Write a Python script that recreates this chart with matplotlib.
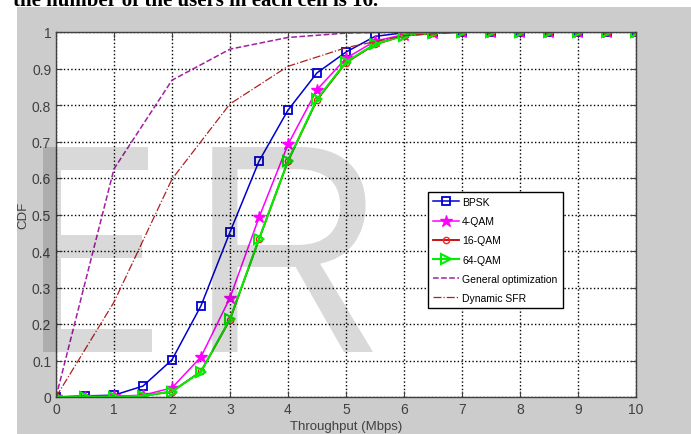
import numpy as np
import matplotlib
matplotlib.use("Agg")
import matplotlib.pyplot as plt
from matplotlib.patches import Rectangle, PathPatch
from matplotlib.textpath import TextPath
from matplotlib.font_manager import FontProperties
from matplotlib.path import Path

# throughput grid (Mbps)
x_mod = [0, 0.5, 1, 1.5, 2, 2.5, 3, 3.5, 4, 4.5, 5, 5.5, 6, 6.5, 7, 7.5, 8, 8.5, 9, 9.5, 10]
x_ref = [0, 1, 2, 3, 4, 5, 6, 7, 8, 9, 10]

bpsk   = [0, 0.003, 0.005, 0.03, 0.102, 0.25, 0.452, 0.646, 0.786, 0.888, 0.945, 0.988, 0.998, 1, 1, 1, 1, 1, 1, 1, 1]
qam4   = [0, 0.001, 0.002, 0.005, 0.025, 0.11, 0.272, 0.492, 0.692, 0.842, 0.928, 0.975, 0.993, 0.998, 1, 1, 1, 1, 1, 1, 1]
qam16  = [0, 0.001, 0.001, 0.003, 0.015, 0.07, 0.212, 0.432, 0.646, 0.814, 0.916, 0.966, 0.99, 0.997, 1, 1, 1, 1, 1, 1, 1]
qam64  = [0, 0.001, 0.001, 0.003, 0.015, 0.069, 0.214, 0.433, 0.647, 0.816, 0.918, 0.967, 0.99, 0.997, 1, 1, 1, 1, 1, 1, 1]
gen_opt = [0, 0.625, 0.868, 0.953, 0.985, 0.997, 1, 1, 1, 1, 1]
dyn_sfr = [0, 0.26, 0.597, 0.803, 0.906, 0.957, 0.99, 1, 1, 1, 1]

xticks = list(range(0, 11))
yticks = [0, 0.1, 0.2, 0.3, 0.4, 0.5, 0.6, 0.7, 0.8, 0.9, 1]
ylabels = ["0", "0.1", "0.2", "0.3", "0.4", "0.5", "0.6", "0.7", "0.8", "0.9", "1"]

plt.rcParams["font.family"] = ["Liberation Sans", "DejaVu Sans"]

W, H = 691, 435
fig = plt.figure(figsize=(W/100, H/100), dpi=100, facecolor="white")
# matlab grey figure area
fig.patches.append(Rectangle((17/W, 0), 1 - 17/W, (H-8)/H, transform=fig.transFigure,
                             facecolor="#cccccc", edgecolor="none", zorder=-5))
fig.text(13/W, 1 - 6/H, "the number of the users in each cell is 16.", family="Liberation Serif",
         fontsize=15, fontweight="bold", va="baseline", ha="left", color="black")

ax = fig.add_axes([56/W, (H-398)/H, 580/W, 365/H])
ax.set_facecolor("white")

ax.plot(x_mod, bpsk, "-s", color="#0000d0", lw=1.1, ms=6, mfc="none", mew=1.3, label="BPSK")
ax.plot(x_mod, qam4, "-*", color="#ff00ff", lw=1.1, ms=9, mfc="#ff00ff", label="4-QAM")
ax.plot(x_mod, qam16, "-o", color="#c00000", lw=1.3, ms=4.5, mfc="none", mec="#ff2020", label="16-QAM")
ax.plot(x_mod, qam64, "->", color="#00ee00", lw=1.5, ms=7, mfc="none", mew=1.5, label="64-QAM")
ax.plot(x_ref, gen_opt, "--", color="#a020a0", lw=1.1, label="General optimization")
ax.plot(x_ref, dyn_sfr, "-.", color="#b02020", lw=0.9, label="Dynamic SFR")

ax.set_xlim(0, 10); ax.set_ylim(0, 1)
ax.set_xticks(xticks); ax.set_yticks(yticks); ax.set_yticklabels(ylabels)
ax.grid(True, ls=":", color="black", lw=1.0)
ax.tick_params(direction="in", length=4, top=True, right=True, labelsize=10, labelcolor="#404040", color="#404040")
for s in ax.spines.values():
    s.set_color("#404040"); s.set_linewidth(1.0)
ax.set_xlabel("Throughput (Mbps)", fontsize=9.5, color="#404040", labelpad=3)
ax.set_ylabel("CDF", fontsize=9.5, color="#404040", labelpad=2)

leg = ax.legend(loc="upper left", bbox_to_anchor=(0.641, 0.562), fontsize=7.5, frameon=True,
                fancybox=False, framealpha=1, edgecolor="black", handlelength=2.5,
                borderpad=0.5, labelspacing=0.88, handletextpad=0.3, borderaxespad=0)
leg.get_frame().set_linewidth(1.0)

# faded watermark over the plot, each letter fitted to its box (pixels, from top-left)
fp = FontProperties(family="Liberation Sans")
for ch, (x0, x1, y0, y1) in [("E", (26, 152, 148, 353)), ("R", (190, 373, 148, 353))]:
    tp = TextPath((0, 0), ch, size=1, prop=fp)
    v = tp.vertices.copy()
    mn, mx = v.min(0), v.max(0)
    v[:, 0] = (x0 + (v[:, 0] - mn[0]) / (mx[0] - mn[0]) * (x1 - x0)) / W
    v[:, 1] = (H - y1 + (v[:, 1] - mn[1]) / (mx[1] - mn[1]) * (y1 - y0)) / H
    fig.add_artist(PathPatch(Path(v, tp.codes), transform=fig.transFigure, facecolor="black",
                             edgecolor="none", alpha=0.15, zorder=10))

fig.savefig("out.png", dpi=100, facecolor=fig.get_facecolor())
